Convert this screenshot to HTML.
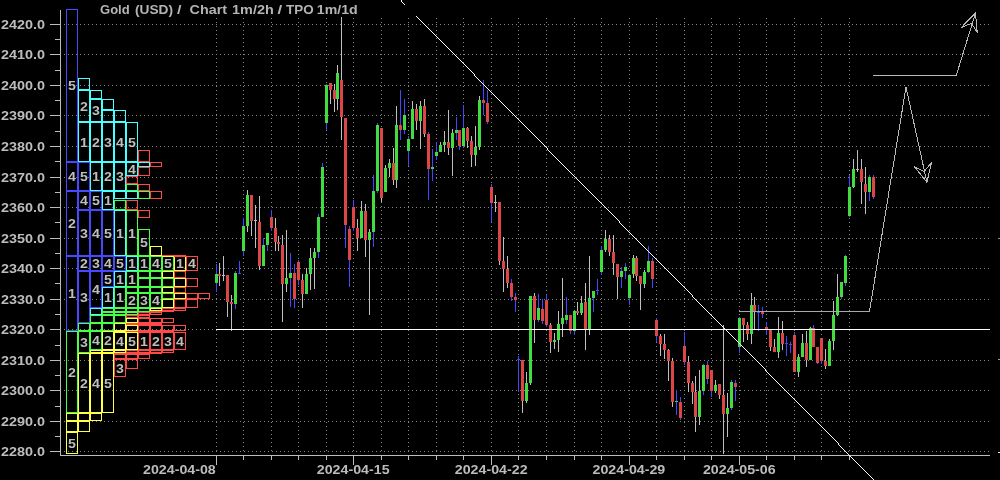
<!DOCTYPE html><html><head><meta charset="utf-8"><style>html,body{margin:0;padding:0;background:#000;}body{width:1000px;height:480px;overflow:hidden;}svg{display:block;will-change:transform;}</style></head><body>
<svg width="1000" height="480" viewBox="0 0 1000 480">
<rect width="1000" height="480" fill="#000"/>
<g stroke="#858585" stroke-width="1" stroke-dasharray="1 3" shape-rendering="crispEdges"><line x1="64" y1="24.5" x2="989" y2="24.5"/><line x1="64" y1="54.5" x2="989" y2="54.5"/><line x1="64" y1="85.5" x2="989" y2="85.5"/><line x1="64" y1="115.5" x2="989" y2="115.5"/><line x1="64" y1="146.5" x2="989" y2="146.5"/><line x1="64" y1="177.5" x2="989" y2="177.5"/><line x1="64" y1="207.5" x2="989" y2="207.5"/><line x1="64" y1="238.5" x2="989" y2="238.5"/><line x1="64" y1="268.5" x2="989" y2="268.5"/><line x1="64" y1="299.5" x2="989" y2="299.5"/><line x1="64" y1="329.5" x2="989" y2="329.5"/><line x1="64" y1="360.5" x2="989" y2="360.5"/><line x1="64" y1="390.5" x2="989" y2="390.5"/><line x1="64" y1="421.5" x2="989" y2="421.5"/><line x1="64" y1="451.5" x2="989" y2="451.5"/><line x1="216.5" y1="18" x2="216.5" y2="452"/><line x1="243.5" y1="18" x2="243.5" y2="452"/><line x1="271.5" y1="18" x2="271.5" y2="452"/><line x1="298.5" y1="18" x2="298.5" y2="452"/><line x1="326.5" y1="18" x2="326.5" y2="452"/><line x1="353.5" y1="18" x2="353.5" y2="452"/><line x1="381.5" y1="18" x2="381.5" y2="452"/><line x1="408.5" y1="18" x2="408.5" y2="452"/><line x1="436.5" y1="18" x2="436.5" y2="452"/><line x1="463.5" y1="18" x2="463.5" y2="452"/><line x1="491.5" y1="18" x2="491.5" y2="452"/><line x1="518.5" y1="18" x2="518.5" y2="452"/><line x1="546.5" y1="18" x2="546.5" y2="452"/><line x1="574.5" y1="18" x2="574.5" y2="452"/><line x1="601.5" y1="18" x2="601.5" y2="452"/><line x1="629.5" y1="18" x2="629.5" y2="452"/><line x1="656.5" y1="18" x2="656.5" y2="452"/><line x1="684.5" y1="18" x2="684.5" y2="452"/><line x1="711.5" y1="18" x2="711.5" y2="452"/><line x1="739.5" y1="18" x2="739.5" y2="452"/><line x1="766.5" y1="18" x2="766.5" y2="452"/><line x1="794.5" y1="18" x2="794.5" y2="452"/><line x1="821.5" y1="18" x2="821.5" y2="452"/><line x1="849.5" y1="18" x2="849.5" y2="452"/></g>
<g fill="#bcbcbc" shape-rendering="crispEdges"><rect x="60" y="10" width="1" height="446"/><rect x="60" y="455" width="930" height="1"/><rect x="50" y="24" width="10" height="1"/><rect x="50" y="54" width="10" height="1"/><rect x="50" y="85" width="10" height="1"/><rect x="50" y="115" width="10" height="1"/><rect x="50" y="146" width="10" height="1"/><rect x="50" y="177" width="10" height="1"/><rect x="50" y="207" width="10" height="1"/><rect x="50" y="238" width="10" height="1"/><rect x="50" y="268" width="10" height="1"/><rect x="50" y="299" width="10" height="1"/><rect x="50" y="329" width="10" height="1"/><rect x="50" y="360" width="10" height="1"/><rect x="50" y="390" width="10" height="1"/><rect x="50" y="421" width="10" height="1"/><rect x="50" y="451" width="10" height="1"/><rect x="55" y="39" width="5" height="1"/><rect x="55" y="70" width="5" height="1"/><rect x="55" y="100" width="5" height="1"/><rect x="55" y="131" width="5" height="1"/><rect x="55" y="161" width="5" height="1"/><rect x="55" y="192" width="5" height="1"/><rect x="55" y="222" width="5" height="1"/><rect x="55" y="253" width="5" height="1"/><rect x="55" y="283" width="5" height="1"/><rect x="55" y="314" width="5" height="1"/><rect x="55" y="345" width="5" height="1"/><rect x="55" y="375" width="5" height="1"/><rect x="55" y="406" width="5" height="1"/><rect x="55" y="436" width="5" height="1"/><rect x="216" y="456" width="1" height="9"/><rect x="243" y="456" width="1" height="4"/><rect x="271" y="456" width="1" height="4"/><rect x="298" y="456" width="1" height="4"/><rect x="326" y="456" width="1" height="4"/><rect x="353" y="456" width="1" height="9"/><rect x="381" y="456" width="1" height="4"/><rect x="408" y="456" width="1" height="4"/><rect x="436" y="456" width="1" height="4"/><rect x="463" y="456" width="1" height="4"/><rect x="491" y="456" width="1" height="9"/><rect x="518" y="456" width="1" height="4"/><rect x="546" y="456" width="1" height="4"/><rect x="574" y="456" width="1" height="4"/><rect x="601" y="456" width="1" height="4"/><rect x="629" y="456" width="1" height="9"/><rect x="656" y="456" width="1" height="4"/><rect x="684" y="456" width="1" height="4"/><rect x="711" y="456" width="1" height="4"/><rect x="739" y="456" width="1" height="9"/><rect x="766" y="456" width="1" height="4"/><rect x="794" y="456" width="1" height="4"/><rect x="821" y="456" width="1" height="4"/><rect x="849" y="456" width="1" height="4"/></g>
<g fill="#bcbcbc" font-family="'Liberation Sans', sans-serif" font-weight="bold" font-size="12.4px"><text x="1" y="29" textLength="44" lengthAdjust="spacingAndGlyphs">2420.0</text><text x="1" y="59" textLength="44" lengthAdjust="spacingAndGlyphs">2410.0</text><text x="1" y="90" textLength="44" lengthAdjust="spacingAndGlyphs">2400.0</text><text x="1" y="120" textLength="44" lengthAdjust="spacingAndGlyphs">2390.0</text><text x="1" y="151" textLength="44" lengthAdjust="spacingAndGlyphs">2380.0</text><text x="1" y="182" textLength="44" lengthAdjust="spacingAndGlyphs">2370.0</text><text x="1" y="212" textLength="44" lengthAdjust="spacingAndGlyphs">2360.0</text><text x="1" y="243" textLength="44" lengthAdjust="spacingAndGlyphs">2350.0</text><text x="1" y="273" textLength="44" lengthAdjust="spacingAndGlyphs">2340.0</text><text x="1" y="304" textLength="44" lengthAdjust="spacingAndGlyphs">2330.0</text><text x="1" y="334" textLength="44" lengthAdjust="spacingAndGlyphs">2320.0</text><text x="1" y="365" textLength="44" lengthAdjust="spacingAndGlyphs">2310.0</text><text x="1" y="395" textLength="44" lengthAdjust="spacingAndGlyphs">2300.0</text><text x="1" y="426" textLength="44" lengthAdjust="spacingAndGlyphs">2290.0</text><text x="1" y="456" textLength="44" lengthAdjust="spacingAndGlyphs">2280.0</text></g>
<g fill="#bcbcbc" font-family="'Liberation Sans', sans-serif" font-weight="bold" font-size="12.5px"><text x="143" y="474" textLength="72.8" lengthAdjust="spacingAndGlyphs">2024-04-08</text><text x="316.8" y="474" textLength="72.8" lengthAdjust="spacingAndGlyphs">2024-04-15</text><text x="454.8" y="474" textLength="72.8" lengthAdjust="spacingAndGlyphs">2024-04-22</text><text x="592.5" y="474" textLength="72.8" lengthAdjust="spacingAndGlyphs">2024-04-29</text><text x="702.9" y="474" textLength="72.8" lengthAdjust="spacingAndGlyphs">2024-05-06</text></g>
<g fill="#b4b4b4" font-family="'Liberation Sans', sans-serif" font-weight="bold" font-size="13.2px"><text x="100.0" y="14" textLength="29.7" lengthAdjust="spacingAndGlyphs">Gold</text><text x="135.0" y="14" textLength="38.1" lengthAdjust="spacingAndGlyphs">(USD)</text><text x="177.0" y="14" textLength="4.5" lengthAdjust="spacingAndGlyphs">/</text><text x="189.6" y="14" textLength="37.4" lengthAdjust="spacingAndGlyphs">Chart</text><text x="232.1" y="14" textLength="41.6" lengthAdjust="spacingAndGlyphs">1m/2h</text><text x="277.4" y="14" textLength="4.7" lengthAdjust="spacingAndGlyphs">/</text><text x="286.0" y="14" textLength="27.6" lengthAdjust="spacingAndGlyphs">TPO</text><text x="316.8" y="14" textLength="40.9" lengthAdjust="spacingAndGlyphs">1m/1d</text></g>
<g fill="#000"><rect x="67.8" y="286.30" width="8.4" height="14.8"/><rect x="67.8" y="216.30" width="8.4" height="14.8"/><rect x="79.8" y="256.30" width="8.4" height="14.8"/><rect x="79.8" y="225.80" width="8.4" height="14.8"/><rect x="91.8" y="256.30" width="8.4" height="14.8"/><rect x="79.8" y="289.80" width="8.4" height="14.8"/><rect x="67.8" y="169.30" width="8.4" height="14.8"/><rect x="79.8" y="193.30" width="8.4" height="14.8"/><rect x="91.8" y="225.80" width="8.4" height="14.8"/><rect x="103.8" y="256.30" width="8.4" height="14.8"/><rect x="91.8" y="282.30" width="8.4" height="14.8"/><rect x="67.8" y="78.30" width="8.4" height="14.8"/><rect x="79.8" y="169.30" width="8.4" height="14.8"/><rect x="91.8" y="193.30" width="8.4" height="14.8"/><rect x="103.8" y="225.80" width="8.4" height="14.8"/><rect x="115.8" y="256.30" width="8.4" height="14.8"/><rect x="103.8" y="271.80" width="8.4" height="14.8"/><rect x="79.8" y="134.80" width="8.4" height="14.8"/><rect x="91.8" y="169.30" width="8.4" height="14.8"/><rect x="103.8" y="193.30" width="8.4" height="14.8"/><rect x="115.8" y="225.80" width="8.4" height="14.8"/><rect x="127.8" y="256.30" width="8.4" height="14.8"/><rect x="115.8" y="271.80" width="8.4" height="14.8"/><rect x="103.8" y="290.30" width="8.4" height="14.8"/><rect x="79.8" y="98.80" width="8.4" height="14.8"/><rect x="91.8" y="134.80" width="8.4" height="14.8"/><rect x="103.8" y="169.30" width="8.4" height="14.8"/><rect x="91.8" y="103.30" width="8.4" height="14.8"/><rect x="103.8" y="134.80" width="8.4" height="14.8"/><rect x="115.8" y="169.30" width="8.4" height="14.8"/><rect x="115.8" y="134.80" width="8.4" height="14.8"/><rect x="127.8" y="161.80" width="8.4" height="14.8"/><rect x="127.8" y="134.80" width="8.4" height="14.8"/><rect x="127.8" y="225.80" width="8.4" height="14.8"/><rect x="139.8" y="256.30" width="8.4" height="14.8"/><rect x="127.8" y="271.80" width="8.4" height="14.8"/><rect x="115.8" y="290.30" width="8.4" height="14.8"/><rect x="127.8" y="293.30" width="8.4" height="14.8"/><rect x="67.8" y="364.80" width="8.4" height="14.8"/><rect x="139.8" y="293.30" width="8.4" height="14.8"/><rect x="79.8" y="334.80" width="8.4" height="14.8"/><rect x="151.8" y="256.30" width="8.4" height="14.8"/><rect x="151.8" y="293.30" width="8.4" height="14.8"/><rect x="91.8" y="333.30" width="8.4" height="14.8"/><rect x="139.8" y="235.30" width="8.4" height="14.8"/><rect x="163.8" y="256.30" width="8.4" height="14.8"/><rect x="175.8" y="256.30" width="8.4" height="14.8"/><rect x="103.8" y="333.30" width="8.4" height="14.8"/><rect x="79.8" y="375.80" width="8.4" height="14.8"/><rect x="115.8" y="333.80" width="8.4" height="14.8"/><rect x="91.8" y="375.80" width="8.4" height="14.8"/><rect x="127.8" y="333.80" width="8.4" height="14.8"/><rect x="103.8" y="375.80" width="8.4" height="14.8"/><rect x="67.8" y="435.80" width="8.4" height="14.8"/><rect x="139.8" y="333.80" width="8.4" height="14.8"/><rect x="151.8" y="333.80" width="8.4" height="14.8"/><rect x="163.8" y="333.80" width="8.4" height="14.8"/><rect x="115.8" y="360.80" width="8.4" height="14.8"/><rect x="187.8" y="256.30" width="8.4" height="14.8"/><rect x="175.8" y="333.80" width="8.4" height="14.8"/></g>
<g fill="none" stroke-width="1" shape-rendering="crispEdges"><rect x="66.5" y="256.5" width="11" height="74" stroke="#4848ff"/><rect x="66.5" y="191.5" width="11" height="64" stroke="#4848ff"/><rect x="78.5" y="256.5" width="11" height="14" stroke="#4848ff"/><rect x="78.5" y="210.5" width="11" height="45" stroke="#4848ff"/><rect x="90.5" y="256.5" width="11" height="14" stroke="#4848ff"/><rect x="78.5" y="271.5" width="11" height="51" stroke="#4848ff"/><rect x="66.5" y="162.5" width="11" height="28" stroke="#4848ff"/><rect x="78.5" y="191.5" width="11" height="18" stroke="#4848ff"/><rect x="90.5" y="210.5" width="11" height="45" stroke="#4848ff"/><rect x="102.5" y="256.5" width="11" height="14" stroke="#4848ff"/><rect x="90.5" y="271.5" width="11" height="36" stroke="#4848ff"/><rect x="66.5" y="9.5" width="11" height="152" stroke="#4848ff"/><rect x="78.5" y="162.5" width="11" height="28" stroke="#4848ff"/><rect x="90.5" y="191.5" width="11" height="18" stroke="#4848ff"/><rect x="102.5" y="210.5" width="11" height="45" stroke="#4848ff"/><rect x="114.5" y="256.5" width="11" height="14" stroke="#4848ff"/><rect x="102.5" y="271.5" width="11" height="15" stroke="#4848ff"/><rect x="78.5" y="122.5" width="11" height="39" stroke="#48ffff"/><rect x="90.5" y="162.5" width="11" height="28" stroke="#48ffff"/><rect x="102.5" y="191.5" width="11" height="18" stroke="#48ffff"/><rect x="114.5" y="210.5" width="11" height="45" stroke="#48ffff"/><rect x="126.5" y="256.5" width="11" height="14" stroke="#48ffff"/><rect x="114.5" y="271.5" width="11" height="15" stroke="#48ffff"/><rect x="102.5" y="287.5" width="11" height="20" stroke="#48ffff"/><rect x="90.5" y="308.5" width="11" height="6" stroke="#48ffff"/><rect x="78.5" y="90.5" width="11" height="31" stroke="#48ffff"/><rect x="90.5" y="122.5" width="11" height="39" stroke="#48ffff"/><rect x="102.5" y="162.5" width="11" height="28" stroke="#48ffff"/><rect x="114.5" y="191.5" width="11" height="7" stroke="#48ffff"/><rect x="90.5" y="99.5" width="11" height="22" stroke="#48ffff"/><rect x="102.5" y="122.5" width="11" height="39" stroke="#48ffff"/><rect x="114.5" y="162.5" width="11" height="28" stroke="#48ffff"/><rect x="126.5" y="191.5" width="11" height="7" stroke="#48ffff"/><rect x="102.5" y="110.5" width="11" height="11" stroke="#48ffff"/><rect x="114.5" y="122.5" width="11" height="39" stroke="#48ffff"/><rect x="126.5" y="162.5" width="11" height="13" stroke="#48ffff"/><rect x="78.5" y="78.5" width="11" height="11" stroke="#48ffff"/><rect x="90.5" y="90.5" width="11" height="8" stroke="#48ffff"/><rect x="102.5" y="99.5" width="11" height="10" stroke="#48ffff"/><rect x="114.5" y="110.5" width="11" height="11" stroke="#48ffff"/><rect x="126.5" y="122.5" width="11" height="39" stroke="#48ffff"/><rect x="138.5" y="162.5" width="11" height="4" stroke="#48ffff"/><rect x="126.5" y="184.5" width="11" height="6" stroke="#48ff48"/><rect x="138.5" y="191.5" width="11" height="7" stroke="#48ff48"/><rect x="114.5" y="200.5" width="11" height="9" stroke="#48ff48"/><rect x="126.5" y="210.5" width="11" height="45" stroke="#48ff48"/><rect x="138.5" y="256.5" width="11" height="14" stroke="#48ff48"/><rect x="126.5" y="271.5" width="11" height="15" stroke="#48ff48"/><rect x="114.5" y="287.5" width="11" height="20" stroke="#48ff48"/><rect x="102.5" y="308.5" width="11" height="3" stroke="#48ff48"/><rect x="126.5" y="293.5" width="11" height="14" stroke="#48ff48"/><rect x="114.5" y="308.5" width="11" height="3" stroke="#48ff48"/><rect x="102.5" y="312.5" width="11" height="2" stroke="#48ff48"/><rect x="90.5" y="315.5" width="11" height="7" stroke="#48ff48"/><rect x="78.5" y="323.5" width="11" height="7" stroke="#48ff48"/><rect x="66.5" y="331.5" width="11" height="81" stroke="#48ff48"/><rect x="138.5" y="278.5" width="11" height="8" stroke="#48ff48"/><rect x="126.5" y="287.5" width="11" height="5" stroke="#48ff48"/><rect x="138.5" y="293.5" width="11" height="14" stroke="#48ff48"/><rect x="126.5" y="308.5" width="11" height="3" stroke="#48ff48"/><rect x="114.5" y="312.5" width="11" height="2" stroke="#48ff48"/><rect x="102.5" y="315.5" width="11" height="7" stroke="#48ff48"/><rect x="90.5" y="323.5" width="11" height="7" stroke="#48ff48"/><rect x="78.5" y="331.5" width="11" height="21" stroke="#48ff48"/><rect x="150.5" y="256.5" width="11" height="14" stroke="#48ff48"/><rect x="138.5" y="271.5" width="11" height="6" stroke="#48ff48"/><rect x="150.5" y="278.5" width="11" height="8" stroke="#48ff48"/><rect x="138.5" y="287.5" width="11" height="5" stroke="#48ff48"/><rect x="150.5" y="293.5" width="11" height="14" stroke="#48ff48"/><rect x="138.5" y="308.5" width="11" height="3" stroke="#48ff48"/><rect x="126.5" y="312.5" width="11" height="2" stroke="#48ff48"/><rect x="114.5" y="315.5" width="11" height="7" stroke="#48ff48"/><rect x="102.5" y="323.5" width="11" height="7" stroke="#48ff48"/><rect x="90.5" y="331.5" width="11" height="18" stroke="#48ff48"/><rect x="138.5" y="229.5" width="11" height="26" stroke="#48ff48"/><rect x="162.5" y="256.5" width="11" height="14" stroke="#48ff48"/><rect x="150.5" y="271.5" width="11" height="6" stroke="#48ff48"/><rect x="162.5" y="278.5" width="11" height="8" stroke="#48ff48"/><rect x="150.5" y="287.5" width="11" height="5" stroke="#48ff48"/><rect x="162.5" y="293.5" width="11" height="5" stroke="#48ff48"/><rect x="150.5" y="246.5" width="11" height="9" stroke="#ffff48"/><rect x="174.5" y="256.5" width="11" height="14" stroke="#ffff48"/><rect x="162.5" y="271.5" width="11" height="6" stroke="#ffff48"/><rect x="174.5" y="278.5" width="11" height="8" stroke="#ffff48"/><rect x="162.5" y="287.5" width="11" height="5" stroke="#ffff48"/><rect x="174.5" y="293.5" width="11" height="5" stroke="#ffff48"/><rect x="162.5" y="299.5" width="11" height="8" stroke="#ffff48"/><rect x="150.5" y="308.5" width="11" height="2" stroke="#ffff48"/><rect x="126.5" y="318.5" width="11" height="4" stroke="#ffff48"/><rect x="114.5" y="323.5" width="11" height="7" stroke="#ffff48"/><rect x="102.5" y="331.5" width="11" height="18" stroke="#ffff48"/><rect x="90.5" y="350.5" width="11" height="2" stroke="#ffff48"/><rect x="78.5" y="353.5" width="11" height="59" stroke="#ffff48"/><rect x="66.5" y="413.5" width="11" height="7" stroke="#ffff48"/><rect x="114.5" y="332.5" width="11" height="17" stroke="#ffff48"/><rect x="102.5" y="350.5" width="11" height="2" stroke="#ffff48"/><rect x="90.5" y="353.5" width="11" height="59" stroke="#ffff48"/><rect x="78.5" y="413.5" width="11" height="7" stroke="#ffff48"/><rect x="66.5" y="421.5" width="11" height="10" stroke="#ffff48"/><rect x="126.5" y="325.5" width="11" height="5" stroke="#ffff48"/><rect x="114" y="331" width="12" height="1" fill="#ffff48"/><rect x="126.5" y="332.5" width="11" height="17" stroke="#ffff48"/><rect x="114.5" y="350.5" width="11" height="2" stroke="#ffff48"/><rect x="102.5" y="353.5" width="11" height="59" stroke="#ffff48"/><rect x="90.5" y="413.5" width="11" height="7" stroke="#ffff48"/><rect x="78.5" y="421.5" width="11" height="10" stroke="#ffff48"/><rect x="66.5" y="432.5" width="11" height="21" stroke="#ffff48"/><rect x="186.5" y="293.5" width="11" height="5" stroke="#ff4848"/><rect x="174.5" y="299.5" width="11" height="8" stroke="#ff4848"/><rect x="162.5" y="308.5" width="11" height="2" stroke="#ff4848"/><rect x="150" y="311" width="12" height="1" fill="#ff4848"/><rect x="138.5" y="312.5" width="11" height="2" stroke="#ff4848"/><rect x="126.5" y="315.5" width="11" height="2" stroke="#ff4848"/><rect x="138.5" y="318.5" width="11" height="4" stroke="#ff4848"/><rect x="126.5" y="323.5" width="11" height="1" stroke="#ff4848"/><rect x="138.5" y="325.5" width="11" height="5" stroke="#ff4848"/><rect x="126" y="331" width="12" height="1" fill="#ff4848"/><rect x="138.5" y="332.5" width="11" height="17" stroke="#ff4848"/><rect x="126.5" y="350.5" width="11" height="2" stroke="#ff4848"/><rect x="114" y="353" width="12" height="1" fill="#ff4848"/><rect x="150.5" y="318.5" width="11" height="4" stroke="#ff4848"/><rect x="138.5" y="323.5" width="11" height="1" stroke="#ff4848"/><rect x="150.5" y="325.5" width="11" height="5" stroke="#ff4848"/><rect x="138" y="331" width="12" height="1" fill="#ff4848"/><rect x="150.5" y="332.5" width="11" height="17" stroke="#ff4848"/><rect x="138.5" y="350.5" width="11" height="2" stroke="#ff4848"/><rect x="126" y="353" width="12" height="1" fill="#ff4848"/><rect x="114.5" y="354.5" width="11" height="4" stroke="#ff4848"/><rect x="162.5" y="325.5" width="11" height="5" stroke="#ff4848"/><rect x="150" y="331" width="12" height="1" fill="#ff4848"/><rect x="162.5" y="332.5" width="11" height="17" stroke="#ff4848"/><rect x="150.5" y="350.5" width="11" height="2" stroke="#ff4848"/><rect x="138" y="353" width="12" height="1" fill="#ff4848"/><rect x="126.5" y="354.5" width="11" height="4" stroke="#ff4848"/><rect x="114.5" y="359.5" width="11" height="17" stroke="#ff4848"/><rect x="162" y="255" width="12" height="1" fill="#ff4848"/><rect x="186.5" y="256.5" width="11" height="14" stroke="#ff4848"/><rect x="174.5" y="271.5" width="11" height="6" stroke="#ff4848"/><rect x="186.5" y="278.5" width="11" height="8" stroke="#ff4848"/><rect x="174.5" y="287.5" width="11" height="5" stroke="#ff4848"/><rect x="198.5" y="293.5" width="11" height="5" stroke="#ff4848"/><rect x="186.5" y="299.5" width="11" height="8" stroke="#ff4848"/><rect x="174.5" y="308.5" width="11" height="2" stroke="#ff4848"/><rect x="162" y="311" width="12" height="1" fill="#ff4848"/><rect x="150.5" y="312.5" width="11" height="2" stroke="#ff4848"/><rect x="138.5" y="315.5" width="11" height="2" stroke="#ff4848"/><rect x="162.5" y="318.5" width="11" height="4" stroke="#ff4848"/><rect x="150.5" y="323.5" width="11" height="1" stroke="#ff4848"/><rect x="174.5" y="325.5" width="11" height="5" stroke="#ff4848"/><rect x="162" y="331" width="12" height="1" fill="#ff4848"/><rect x="174.5" y="332.5" width="11" height="17" stroke="#ff4848"/><rect x="162.5" y="350.5" width="11" height="2" stroke="#ff4848"/><rect x="150" y="353" width="12" height="1" fill="#ff4848"/><rect x="138.5" y="354.5" width="11" height="4" stroke="#ff4848"/><rect x="126.5" y="359.5" width="11" height="9" stroke="#ff4848"/><rect x="138.5" y="150.5" width="11" height="11" stroke="#ff4848"/><rect x="150.5" y="162.5" width="11" height="4" stroke="#ff4848"/><rect x="138.5" y="167.5" width="11" height="8" stroke="#ff4848"/><rect x="126.5" y="176.5" width="11" height="7" stroke="#ff4848"/><rect x="138.5" y="184.5" width="11" height="6" stroke="#ff4848"/><rect x="150.5" y="191.5" width="11" height="7" stroke="#ff4848"/><rect x="126.5" y="200.5" width="11" height="9" stroke="#ff4848"/><rect x="138.5" y="210.5" width="11" height="7" stroke="#ff4848"/></g>
<g shape-rendering="crispEdges"><rect x="162" y="256" width="12" height="1" fill="#ffff48"/><rect x="174" y="255" width="12" height="2" fill="#ff4848"/><rect x="139" y="315" width="10" height="1" fill="#ff4848"/></g>
<g fill="#bebebe" font-family="'Liberation Sans', sans-serif" font-weight="bold" font-size="12.6px" text-anchor="middle"><text x="72" y="298.20" textLength="7.9" lengthAdjust="spacingAndGlyphs">1</text><text x="72" y="228.20" textLength="7.9" lengthAdjust="spacingAndGlyphs">2</text><text x="84" y="268.20" textLength="7.9" lengthAdjust="spacingAndGlyphs">2</text><text x="84" y="237.70" textLength="7.9" lengthAdjust="spacingAndGlyphs">3</text><text x="96" y="268.20" textLength="7.9" lengthAdjust="spacingAndGlyphs">3</text><text x="84" y="301.70" textLength="7.9" lengthAdjust="spacingAndGlyphs">3</text><text x="72" y="181.20" textLength="7.9" lengthAdjust="spacingAndGlyphs">4</text><text x="84" y="205.20" textLength="7.9" lengthAdjust="spacingAndGlyphs">4</text><text x="96" y="237.70" textLength="7.9" lengthAdjust="spacingAndGlyphs">4</text><text x="108" y="268.20" textLength="7.9" lengthAdjust="spacingAndGlyphs">4</text><text x="96" y="294.20" textLength="7.9" lengthAdjust="spacingAndGlyphs">4</text><text x="72" y="90.20" textLength="7.9" lengthAdjust="spacingAndGlyphs">5</text><text x="84" y="181.20" textLength="7.9" lengthAdjust="spacingAndGlyphs">5</text><text x="96" y="205.20" textLength="7.9" lengthAdjust="spacingAndGlyphs">5</text><text x="108" y="237.70" textLength="7.9" lengthAdjust="spacingAndGlyphs">5</text><text x="120" y="268.20" textLength="7.9" lengthAdjust="spacingAndGlyphs">5</text><text x="108" y="283.70" textLength="7.9" lengthAdjust="spacingAndGlyphs">5</text><text x="84" y="146.70" textLength="7.9" lengthAdjust="spacingAndGlyphs">1</text><text x="96" y="181.20" textLength="7.9" lengthAdjust="spacingAndGlyphs">1</text><text x="108" y="205.20" textLength="7.9" lengthAdjust="spacingAndGlyphs">1</text><text x="120" y="237.70" textLength="7.9" lengthAdjust="spacingAndGlyphs">1</text><text x="132" y="268.20" textLength="7.9" lengthAdjust="spacingAndGlyphs">1</text><text x="120" y="283.70" textLength="7.9" lengthAdjust="spacingAndGlyphs">1</text><text x="108" y="302.20" textLength="7.9" lengthAdjust="spacingAndGlyphs">1</text><text x="84" y="110.70" textLength="7.9" lengthAdjust="spacingAndGlyphs">2</text><text x="96" y="146.70" textLength="7.9" lengthAdjust="spacingAndGlyphs">2</text><text x="108" y="181.20" textLength="7.9" lengthAdjust="spacingAndGlyphs">2</text><text x="96" y="115.20" textLength="7.9" lengthAdjust="spacingAndGlyphs">3</text><text x="108" y="146.70" textLength="7.9" lengthAdjust="spacingAndGlyphs">3</text><text x="120" y="181.20" textLength="7.9" lengthAdjust="spacingAndGlyphs">3</text><text x="120" y="146.70" textLength="7.9" lengthAdjust="spacingAndGlyphs">4</text><text x="132" y="173.70" textLength="7.9" lengthAdjust="spacingAndGlyphs">4</text><text x="132" y="146.70" textLength="7.9" lengthAdjust="spacingAndGlyphs">5</text><text x="132" y="237.70" textLength="7.9" lengthAdjust="spacingAndGlyphs">1</text><text x="144" y="268.20" textLength="7.9" lengthAdjust="spacingAndGlyphs">1</text><text x="132" y="283.70" textLength="7.9" lengthAdjust="spacingAndGlyphs">1</text><text x="120" y="302.20" textLength="7.9" lengthAdjust="spacingAndGlyphs">1</text><text x="132" y="305.20" textLength="7.9" lengthAdjust="spacingAndGlyphs">2</text><text x="72" y="376.70" textLength="7.9" lengthAdjust="spacingAndGlyphs">2</text><text x="144" y="305.20" textLength="7.9" lengthAdjust="spacingAndGlyphs">3</text><text x="84" y="346.70" textLength="7.9" lengthAdjust="spacingAndGlyphs">3</text><text x="156" y="268.20" textLength="7.9" lengthAdjust="spacingAndGlyphs">4</text><text x="156" y="305.20" textLength="7.9" lengthAdjust="spacingAndGlyphs">4</text><text x="96" y="345.20" textLength="7.9" lengthAdjust="spacingAndGlyphs">4</text><text x="144" y="247.20" textLength="7.9" lengthAdjust="spacingAndGlyphs">5</text><text x="168" y="268.20" textLength="7.9" lengthAdjust="spacingAndGlyphs">5</text><text x="180" y="268.20" textLength="7.9" lengthAdjust="spacingAndGlyphs">1</text><text x="108" y="345.20" textLength="7.9" lengthAdjust="spacingAndGlyphs">2</text><text x="84" y="387.70" textLength="7.9" lengthAdjust="spacingAndGlyphs">2</text><text x="120" y="345.70" textLength="7.9" lengthAdjust="spacingAndGlyphs">4</text><text x="96" y="387.70" textLength="7.9" lengthAdjust="spacingAndGlyphs">4</text><text x="132" y="345.70" textLength="7.9" lengthAdjust="spacingAndGlyphs">5</text><text x="108" y="387.70" textLength="7.9" lengthAdjust="spacingAndGlyphs">5</text><text x="72" y="447.70" textLength="7.9" lengthAdjust="spacingAndGlyphs">5</text><text x="144" y="345.70" textLength="7.9" lengthAdjust="spacingAndGlyphs">1</text><text x="156" y="345.70" textLength="7.9" lengthAdjust="spacingAndGlyphs">2</text><text x="168" y="345.70" textLength="7.9" lengthAdjust="spacingAndGlyphs">3</text><text x="120" y="372.70" textLength="7.9" lengthAdjust="spacingAndGlyphs">3</text><text x="192" y="268.20" textLength="7.9" lengthAdjust="spacingAndGlyphs">4</text><text x="180" y="345.70" textLength="7.9" lengthAdjust="spacingAndGlyphs">4</text></g>
<g shape-rendering="crispEdges"><rect x="216" y="264" width="1" height="28" fill="#4646ff"/><rect x="219" y="263" width="1" height="23" fill="#bebebe"/><rect x="223" y="256" width="1" height="25" fill="#bebebe"/><rect x="227" y="275" width="1" height="42" fill="#bebebe"/><rect x="231" y="295" width="1" height="36" fill="#bebebe"/><rect x="235" y="271" width="1" height="38" fill="#4646ff"/><rect x="239" y="261" width="1" height="13" fill="#4646ff"/><rect x="243" y="218" width="1" height="38" fill="#4646ff"/><rect x="247" y="190" width="1" height="42" fill="#bebebe"/><rect x="251" y="195" width="1" height="41" fill="#bebebe"/><rect x="255" y="205" width="1" height="43" fill="#bebebe"/><rect x="259" y="196" width="1" height="74" fill="#bebebe"/><rect x="263" y="238" width="1" height="28" fill="#4646ff"/><rect x="267" y="233" width="1" height="18" fill="#4646ff"/><rect x="271" y="210" width="1" height="21" fill="#4646ff"/><rect x="275" y="218" width="1" height="33" fill="#bebebe"/><rect x="278" y="236" width="1" height="15" fill="#bebebe"/><rect x="282" y="235" width="1" height="87" fill="#bebebe"/><rect x="286" y="230" width="1" height="62" fill="#bebebe"/><rect x="290" y="253" width="1" height="54" fill="#4646ff"/><rect x="294" y="264" width="1" height="44" fill="#4646ff"/><rect x="298" y="260" width="1" height="25" fill="#4646ff"/><rect x="302" y="274" width="1" height="34" fill="#bebebe"/><rect x="306" y="268" width="1" height="26" fill="#bebebe"/><rect x="310" y="248" width="1" height="42" fill="#bebebe"/><rect x="314" y="248" width="1" height="41" fill="#bebebe"/><rect x="318" y="214" width="1" height="44" fill="#4646ff"/><rect x="322" y="163" width="1" height="54" fill="#4646ff"/><rect x="326" y="84" width="1" height="46" fill="#4646ff"/><rect x="330" y="83" width="1" height="21" fill="#bebebe"/><rect x="334" y="84" width="1" height="28" fill="#bebebe"/><rect x="337" y="65" width="1" height="45" fill="#bebebe"/><rect x="341" y="17" width="1" height="123" fill="#bebebe"/><rect x="345" y="118" width="1" height="130" fill="#4646ff"/><rect x="349" y="226" width="1" height="61" fill="#4646ff"/><rect x="353" y="200" width="1" height="31" fill="#4646ff"/><rect x="357" y="219" width="1" height="32" fill="#bebebe"/><rect x="361" y="201" width="1" height="37" fill="#bebebe"/><rect x="365" y="204" width="1" height="53" fill="#bebebe"/><rect x="369" y="229" width="1" height="86" fill="#bebebe"/><rect x="373" y="175" width="1" height="72" fill="#4646ff"/><rect x="377" y="123" width="1" height="70" fill="#4646ff"/><rect x="381" y="128" width="1" height="74" fill="#bebebe"/><rect x="385" y="165" width="1" height="27" fill="#bebebe"/><rect x="389" y="159" width="1" height="18" fill="#bebebe"/><rect x="393" y="148" width="1" height="37" fill="#bebebe"/><rect x="396" y="106" width="1" height="82" fill="#bebebe"/><rect x="400" y="90" width="1" height="50" fill="#4646ff"/><rect x="404" y="99" width="1" height="35" fill="#4646ff"/><rect x="408" y="136" width="1" height="30" fill="#4646ff"/><rect x="412" y="101" width="1" height="38" fill="#bebebe"/><rect x="416" y="104" width="1" height="26" fill="#bebebe"/><rect x="420" y="101" width="1" height="48" fill="#bebebe"/><rect x="424" y="99" width="1" height="38" fill="#bebebe"/><rect x="428" y="132" width="1" height="68" fill="#4646ff"/><rect x="432" y="149" width="1" height="32" fill="#4646ff"/><rect x="436" y="142" width="1" height="18" fill="#4646ff"/><rect x="440" y="142" width="1" height="10" fill="#bebebe"/><rect x="444" y="131" width="1" height="21" fill="#bebebe"/><rect x="448" y="110" width="1" height="45" fill="#bebebe"/><rect x="452" y="129" width="1" height="47" fill="#bebebe"/><rect x="456" y="117" width="1" height="23" fill="#4646ff"/><rect x="459" y="130" width="1" height="20" fill="#4646ff"/><rect x="463" y="105" width="1" height="43" fill="#4646ff"/><rect x="467" y="127" width="1" height="21" fill="#bebebe"/><rect x="471" y="136" width="1" height="31" fill="#bebebe"/><rect x="475" y="126" width="1" height="40" fill="#bebebe"/><rect x="479" y="96" width="1" height="54" fill="#bebebe"/><rect x="483" y="80" width="1" height="35" fill="#4646ff"/><rect x="487" y="90" width="1" height="34" fill="#4646ff"/><rect x="491" y="184" width="1" height="38" fill="#4646ff"/><rect x="495" y="195" width="1" height="17" fill="#bebebe"/><rect x="499" y="202" width="1" height="63" fill="#bebebe"/><rect x="503" y="237" width="1" height="55" fill="#bebebe"/><rect x="507" y="256" width="1" height="32" fill="#bebebe"/><rect x="511" y="279" width="1" height="22" fill="#4646ff"/><rect x="515" y="293" width="1" height="19" fill="#4646ff"/><rect x="518" y="356" width="1" height="36" fill="#4646ff"/><rect x="522" y="360" width="1" height="53" fill="#bebebe"/><rect x="526" y="372" width="1" height="31" fill="#bebebe"/><rect x="530" y="296" width="1" height="89" fill="#bebebe"/><rect x="534" y="293" width="1" height="50" fill="#bebebe"/><rect x="538" y="294" width="1" height="28" fill="#4646ff"/><rect x="542" y="299" width="1" height="25" fill="#4646ff"/><rect x="546" y="294" width="1" height="33" fill="#4646ff"/><rect x="550" y="323" width="1" height="30" fill="#bebebe"/><rect x="554" y="333" width="1" height="16" fill="#bebebe"/><rect x="558" y="311" width="1" height="41" fill="#bebebe"/><rect x="562" y="278" width="1" height="59" fill="#bebebe"/><rect x="566" y="297" width="1" height="27" fill="#4646ff"/><rect x="570" y="315" width="1" height="19" fill="#4646ff"/><rect x="574" y="311" width="1" height="24" fill="#4646ff"/><rect x="577" y="302" width="1" height="13" fill="#bebebe"/><rect x="581" y="296" width="1" height="19" fill="#bebebe"/><rect x="585" y="283" width="1" height="67" fill="#bebebe"/><rect x="589" y="256" width="1" height="79" fill="#bebebe"/><rect x="593" y="291" width="1" height="21" fill="#4646ff"/><rect x="597" y="279" width="1" height="16" fill="#4646ff"/><rect x="601" y="246" width="1" height="29" fill="#4646ff"/><rect x="605" y="230" width="1" height="22" fill="#bebebe"/><rect x="609" y="235" width="1" height="21" fill="#bebebe"/><rect x="613" y="235" width="1" height="40" fill="#bebebe"/><rect x="617" y="264" width="1" height="35" fill="#bebebe"/><rect x="621" y="267" width="1" height="21" fill="#4646ff"/><rect x="625" y="263" width="1" height="16" fill="#4646ff"/><rect x="629" y="274" width="1" height="31" fill="#4646ff"/><rect x="633" y="255" width="1" height="23" fill="#bebebe"/><rect x="636" y="256" width="1" height="25" fill="#bebebe"/><rect x="640" y="276" width="1" height="34" fill="#bebebe"/><rect x="644" y="270" width="1" height="18" fill="#bebebe"/><rect x="648" y="246" width="1" height="27" fill="#4646ff"/><rect x="652" y="258" width="1" height="30" fill="#4646ff"/><rect x="656" y="318" width="1" height="24" fill="#4646ff"/><rect x="660" y="334" width="1" height="22" fill="#bebebe"/><rect x="664" y="334" width="1" height="25" fill="#bebebe"/><rect x="668" y="349" width="1" height="32" fill="#bebebe"/><rect x="672" y="358" width="1" height="49" fill="#bebebe"/><rect x="676" y="390" width="1" height="25" fill="#4646ff"/><rect x="680" y="397" width="1" height="23" fill="#4646ff"/><rect x="684" y="332" width="1" height="33" fill="#4646ff"/><rect x="688" y="356" width="1" height="36" fill="#bebebe"/><rect x="692" y="381" width="1" height="23" fill="#bebebe"/><rect x="695" y="376" width="1" height="56" fill="#bebebe"/><rect x="699" y="370" width="1" height="55" fill="#bebebe"/><rect x="703" y="364" width="1" height="31" fill="#4646ff"/><rect x="707" y="361" width="1" height="23" fill="#4646ff"/><rect x="711" y="370" width="1" height="27" fill="#4646ff"/><rect x="715" y="380" width="1" height="13" fill="#bebebe"/><rect x="719" y="384" width="1" height="15" fill="#bebebe"/><rect x="723" y="325" width="1" height="129" fill="#bebebe"/><rect x="727" y="393" width="1" height="44" fill="#bebebe"/><rect x="731" y="380" width="1" height="30" fill="#4646ff"/><rect x="735" y="380" width="1" height="21" fill="#4646ff"/><rect x="739" y="317" width="1" height="36" fill="#4646ff"/><rect x="743" y="318" width="1" height="24" fill="#bebebe"/><rect x="747" y="322" width="1" height="18" fill="#bebebe"/><rect x="751" y="293" width="1" height="51" fill="#bebebe"/><rect x="754" y="297" width="1" height="32" fill="#bebebe"/><rect x="758" y="305" width="1" height="26" fill="#4646ff"/><rect x="762" y="307" width="1" height="11" fill="#4646ff"/><rect x="766" y="322" width="1" height="13" fill="#4646ff"/><rect x="770" y="330" width="1" height="21" fill="#bebebe"/><rect x="774" y="339" width="1" height="13" fill="#bebebe"/><rect x="778" y="317" width="1" height="41" fill="#bebebe"/><rect x="782" y="321" width="1" height="29" fill="#bebebe"/><rect x="786" y="336" width="1" height="20" fill="#4646ff"/><rect x="790" y="342" width="1" height="11" fill="#4646ff"/><rect x="794" y="332" width="1" height="40" fill="#4646ff"/><rect x="798" y="354" width="1" height="23" fill="#bebebe"/><rect x="802" y="334" width="1" height="23" fill="#bebebe"/><rect x="806" y="331" width="1" height="36" fill="#bebebe"/><rect x="810" y="327" width="1" height="33" fill="#bebebe"/><rect x="813" y="325" width="1" height="22" fill="#4646ff"/><rect x="817" y="347" width="1" height="17" fill="#4646ff"/><rect x="821" y="338" width="1" height="26" fill="#4646ff"/><rect x="825" y="349" width="1" height="20" fill="#bebebe"/><rect x="829" y="339" width="1" height="27" fill="#bebebe"/><rect x="833" y="301" width="1" height="49" fill="#bebebe"/><rect x="837" y="274" width="1" height="42" fill="#bebebe"/><rect x="841" y="282" width="1" height="17" fill="#4646ff"/><rect x="845" y="255" width="1" height="31" fill="#4646ff"/><rect x="849" y="175" width="1" height="42" fill="#4646ff"/><rect x="853" y="159" width="1" height="29" fill="#bebebe"/><rect x="857" y="150" width="1" height="22" fill="#bebebe"/><rect x="861" y="159" width="1" height="45" fill="#bebebe"/><rect x="865" y="167" width="1" height="47" fill="#bebebe"/><rect x="869" y="175" width="1" height="26" fill="#4646ff"/><rect x="873" y="175" width="1" height="24" fill="#4646ff"/><rect x="215" y="274" width="3" height="9" fill="#40dc40"/><rect x="218" y="274" width="3" height="2" fill="#dc4646"/><rect x="222" y="275" width="3" height="1" fill="#bebebe"/><rect x="226" y="275" width="3" height="27" fill="#dc4646"/><rect x="230" y="302" width="3" height="2" fill="#dc4646"/><rect x="234" y="273" width="3" height="31" fill="#40dc40"/><rect x="238" y="273" width="3" height="1" fill="#4646ff"/><rect x="242" y="226" width="3" height="25" fill="#40dc40"/><rect x="246" y="195" width="3" height="31" fill="#40dc40"/><rect x="250" y="195" width="3" height="26" fill="#dc4646"/><rect x="254" y="220" width="3" height="1" fill="#bebebe"/><rect x="258" y="222" width="3" height="44" fill="#dc4646"/><rect x="262" y="245" width="3" height="21" fill="#40dc40"/><rect x="266" y="233" width="3" height="12" fill="#40dc40"/><rect x="270" y="217" width="3" height="11" fill="#dc4646"/><rect x="274" y="228" width="3" height="14" fill="#dc4646"/><rect x="277" y="242" width="3" height="2" fill="#dc4646"/><rect x="281" y="245" width="3" height="39" fill="#dc4646"/><rect x="285" y="278" width="3" height="6" fill="#40dc40"/><rect x="289" y="273" width="3" height="5" fill="#40dc40"/><rect x="293" y="273" width="3" height="26" fill="#dc4646"/><rect x="297" y="262" width="3" height="18" fill="#dc4646"/><rect x="301" y="280" width="3" height="14" fill="#dc4646"/><rect x="305" y="274" width="3" height="20" fill="#40dc40"/><rect x="309" y="258" width="3" height="16" fill="#40dc40"/><rect x="313" y="252" width="3" height="6" fill="#40dc40"/><rect x="317" y="217" width="3" height="35" fill="#40dc40"/><rect x="321" y="167" width="3" height="50" fill="#40dc40"/><rect x="325" y="85" width="3" height="38" fill="#40dc40"/><rect x="329" y="83" width="3" height="7" fill="#dc4646"/><rect x="333" y="90" width="3" height="9" fill="#dc4646"/><rect x="336" y="73" width="3" height="26" fill="#40dc40"/><rect x="340" y="80" width="3" height="37" fill="#dc4646"/><rect x="344" y="118" width="3" height="107" fill="#dc4646"/><rect x="348" y="229" width="3" height="31" fill="#dc4646"/><rect x="352" y="207" width="3" height="21" fill="#dc4646"/><rect x="356" y="228" width="3" height="10" fill="#dc4646"/><rect x="360" y="211" width="3" height="27" fill="#40dc40"/><rect x="364" y="211" width="3" height="29" fill="#dc4646"/><rect x="368" y="232" width="3" height="8" fill="#40dc40"/><rect x="372" y="191" width="3" height="41" fill="#40dc40"/><rect x="376" y="125" width="3" height="66" fill="#40dc40"/><rect x="380" y="128" width="3" height="70" fill="#dc4646"/><rect x="384" y="168" width="3" height="24" fill="#40dc40"/><rect x="388" y="163" width="3" height="5" fill="#40dc40"/><rect x="392" y="163" width="3" height="17" fill="#dc4646"/><rect x="395" y="125" width="3" height="55" fill="#40dc40"/><rect x="399" y="125" width="3" height="5" fill="#dc4646"/><rect x="403" y="115" width="3" height="15" fill="#40dc40"/><rect x="407" y="139" width="3" height="12" fill="#40dc40"/><rect x="411" y="109" width="3" height="30" fill="#40dc40"/><rect x="415" y="109" width="3" height="12" fill="#dc4646"/><rect x="419" y="106" width="3" height="15" fill="#40dc40"/><rect x="423" y="106" width="3" height="28" fill="#dc4646"/><rect x="427" y="134" width="3" height="35" fill="#dc4646"/><rect x="431" y="167" width="3" height="2" fill="#40dc40"/><rect x="435" y="152" width="3" height="4" fill="#40dc40"/><rect x="439" y="145" width="3" height="7" fill="#40dc40"/><rect x="443" y="142" width="3" height="3" fill="#40dc40"/><rect x="447" y="142" width="3" height="6" fill="#dc4646"/><rect x="451" y="133" width="3" height="15" fill="#40dc40"/><rect x="455" y="130" width="3" height="3" fill="#40dc40"/><rect x="458" y="130" width="3" height="16" fill="#dc4646"/><rect x="462" y="128" width="3" height="18" fill="#40dc40"/><rect x="466" y="128" width="3" height="13" fill="#dc4646"/><rect x="470" y="141" width="3" height="14" fill="#dc4646"/><rect x="474" y="147" width="3" height="8" fill="#40dc40"/><rect x="478" y="100" width="3" height="47" fill="#40dc40"/><rect x="482" y="100" width="3" height="3" fill="#dc4646"/><rect x="486" y="103" width="3" height="19" fill="#dc4646"/><rect x="490" y="187" width="3" height="16" fill="#dc4646"/><rect x="494" y="202" width="3" height="1" fill="#bebebe"/><rect x="498" y="202" width="3" height="59" fill="#dc4646"/><rect x="502" y="261" width="3" height="8" fill="#dc4646"/><rect x="506" y="269" width="3" height="14" fill="#dc4646"/><rect x="510" y="283" width="3" height="14" fill="#dc4646"/><rect x="514" y="297" width="3" height="3" fill="#dc4646"/><rect x="517" y="359" width="3" height="1" fill="#4646ff"/><rect x="521" y="360" width="3" height="41" fill="#dc4646"/><rect x="525" y="383" width="3" height="18" fill="#40dc40"/><rect x="529" y="296" width="3" height="87" fill="#40dc40"/><rect x="533" y="296" width="3" height="24" fill="#dc4646"/><rect x="537" y="308" width="3" height="12" fill="#40dc40"/><rect x="541" y="309" width="3" height="12" fill="#dc4646"/><rect x="545" y="300" width="3" height="25" fill="#dc4646"/><rect x="549" y="325" width="3" height="17" fill="#dc4646"/><rect x="553" y="340" width="3" height="2" fill="#40dc40"/><rect x="557" y="324" width="3" height="16" fill="#40dc40"/><rect x="561" y="318" width="3" height="6" fill="#40dc40"/><rect x="565" y="315" width="3" height="5" fill="#40dc40"/><rect x="569" y="315" width="3" height="16" fill="#dc4646"/><rect x="573" y="311" width="3" height="20" fill="#40dc40"/><rect x="576" y="311" width="3" height="2" fill="#dc4646"/><rect x="580" y="303" width="3" height="10" fill="#40dc40"/><rect x="584" y="302" width="3" height="27" fill="#dc4646"/><rect x="588" y="298" width="3" height="31" fill="#40dc40"/><rect x="592" y="291" width="3" height="7" fill="#40dc40"/><rect x="596" y="290" width="3" height="1" fill="#4646ff"/><rect x="600" y="250" width="3" height="22" fill="#40dc40"/><rect x="604" y="239" width="3" height="11" fill="#40dc40"/><rect x="608" y="239" width="3" height="13" fill="#dc4646"/><rect x="612" y="252" width="3" height="11" fill="#dc4646"/><rect x="616" y="264" width="3" height="13" fill="#dc4646"/><rect x="620" y="271" width="3" height="6" fill="#40dc40"/><rect x="624" y="267" width="3" height="4" fill="#40dc40"/><rect x="628" y="275" width="3" height="23" fill="#40dc40"/><rect x="632" y="258" width="3" height="16" fill="#40dc40"/><rect x="635" y="258" width="3" height="18" fill="#dc4646"/><rect x="639" y="276" width="3" height="8" fill="#dc4646"/><rect x="643" y="272" width="3" height="12" fill="#40dc40"/><rect x="647" y="261" width="3" height="11" fill="#40dc40"/><rect x="651" y="261" width="3" height="18" fill="#dc4646"/><rect x="655" y="320" width="3" height="16" fill="#dc4646"/><rect x="659" y="336" width="3" height="8" fill="#dc4646"/><rect x="663" y="344" width="3" height="6" fill="#dc4646"/><rect x="667" y="350" width="3" height="11" fill="#dc4646"/><rect x="671" y="361" width="3" height="41" fill="#dc4646"/><rect x="675" y="401" width="3" height="1" fill="#40dc40"/><rect x="679" y="402" width="3" height="16" fill="#dc4646"/><rect x="683" y="346" width="3" height="16" fill="#dc4646"/><rect x="687" y="362" width="3" height="21" fill="#dc4646"/><rect x="691" y="383" width="3" height="9" fill="#dc4646"/><rect x="694" y="392" width="3" height="25" fill="#dc4646"/><rect x="698" y="391" width="3" height="26" fill="#40dc40"/><rect x="702" y="365" width="3" height="26" fill="#40dc40"/><rect x="706" y="365" width="3" height="14" fill="#dc4646"/><rect x="710" y="370" width="3" height="21" fill="#dc4646"/><rect x="714" y="385" width="3" height="6" fill="#40dc40"/><rect x="718" y="384" width="3" height="11" fill="#dc4646"/><rect x="722" y="395" width="3" height="19" fill="#dc4646"/><rect x="726" y="408" width="3" height="6" fill="#40dc40"/><rect x="730" y="382" width="3" height="26" fill="#40dc40"/><rect x="734" y="383" width="3" height="4" fill="#dc4646"/><rect x="738" y="318" width="3" height="29" fill="#40dc40"/><rect x="742" y="318" width="3" height="7" fill="#dc4646"/><rect x="746" y="325" width="3" height="9" fill="#dc4646"/><rect x="750" y="305" width="3" height="29" fill="#40dc40"/><rect x="753" y="305" width="3" height="7" fill="#dc4646"/><rect x="757" y="312" width="3" height="1" fill="#4646ff"/><rect x="761" y="312" width="3" height="2" fill="#dc4646"/><rect x="765" y="327" width="3" height="2" fill="#dc4646"/><rect x="769" y="330" width="3" height="17" fill="#dc4646"/><rect x="773" y="347" width="3" height="5" fill="#dc4646"/><rect x="777" y="333" width="3" height="19" fill="#40dc40"/><rect x="781" y="333" width="3" height="11" fill="#dc4646"/><rect x="785" y="343" width="3" height="1" fill="#4646ff"/><rect x="789" y="344" width="3" height="1" fill="#4646ff"/><rect x="793" y="335" width="3" height="37" fill="#dc4646"/><rect x="797" y="357" width="3" height="15" fill="#40dc40"/><rect x="801" y="343" width="3" height="14" fill="#40dc40"/><rect x="805" y="343" width="3" height="17" fill="#dc4646"/><rect x="809" y="328" width="3" height="32" fill="#40dc40"/><rect x="812" y="328" width="3" height="19" fill="#dc4646"/><rect x="816" y="347" width="3" height="16" fill="#dc4646"/><rect x="820" y="338" width="3" height="23" fill="#dc4646"/><rect x="824" y="361" width="3" height="5" fill="#dc4646"/><rect x="828" y="341" width="3" height="25" fill="#40dc40"/><rect x="832" y="315" width="3" height="26" fill="#40dc40"/><rect x="836" y="297" width="3" height="18" fill="#40dc40"/><rect x="840" y="282" width="3" height="15" fill="#40dc40"/><rect x="844" y="256" width="3" height="27" fill="#40dc40"/><rect x="848" y="187" width="3" height="29" fill="#40dc40"/><rect x="852" y="169" width="3" height="18" fill="#40dc40"/><rect x="856" y="169" width="3" height="1" fill="#bebebe"/><rect x="860" y="169" width="3" height="13" fill="#dc4646"/><rect x="864" y="184" width="3" height="8" fill="#dc4646"/><rect x="868" y="177" width="3" height="15" fill="#40dc40"/><rect x="872" y="177" width="3" height="20" fill="#dc4646"/></g>
<rect x="216" y="329" width="774" height="1" fill="#ffffff" shape-rendering="crispEdges"/>
<path d="M401 0h1v1h-1zM401 1h1v1h-1zM402 2h1v1h-1zM403 3h1v1h-1zM404 4h1v1h-1zM416 16h1v1h-1zM417 17h1v1h-1zM418 18h1v1h-1zM419 19h1v1h-1zM420 20h1v1h-1zM421 21h1v1h-1zM422 22h1v1h-1zM423 23h1v1h-1zM424 24h1v1h-1zM425 25h1v1h-1zM426 26h1v1h-1zM427 27h1v1h-1zM428 28h1v1h-1zM429 29h1v1h-1zM430 30h1v1h-1zM431 31h1v1h-1zM432 32h1v1h-1zM433 33h1v1h-1zM434 34h1v1h-1zM435 35h1v1h-1zM436 36h1v1h-1zM437 37h1v1h-1zM438 38h1v1h-1zM439 39h1v1h-1zM440 40h1v1h-1zM441 41h1v1h-1zM442 42h1v1h-1zM443 43h1v1h-1zM444 44h1v1h-1zM445 45h1v1h-1zM446 46h1v1h-1zM447 47h1v1h-1zM448 48h1v1h-1zM449 49h1v1h-1zM450 50h1v1h-1zM451 51h1v1h-1zM452 52h1v1h-1zM453 53h1v1h-1zM454 54h1v1h-1zM455 55h1v1h-1zM456 56h1v1h-1zM457 57h1v1h-1zM458 58h1v1h-1zM459 59h1v1h-1zM460 60h1v1h-1zM461 61h1v1h-1zM462 62h1v1h-1zM463 63h1v1h-1zM464 64h1v1h-1zM465 65h1v1h-1zM466 66h1v1h-1zM467 67h1v1h-1zM468 68h1v1h-1zM469 69h1v1h-1zM470 70h1v1h-1zM471 71h1v1h-1zM472 72h1v1h-1zM473 73h1v1h-1zM474 74h1v1h-1zM474 75h1v1h-1zM475 76h1v1h-1zM476 77h1v1h-1zM477 78h1v1h-1zM478 79h1v1h-1zM479 80h1v1h-1zM480 81h1v1h-1zM481 82h1v1h-1zM482 83h1v1h-1zM483 84h1v1h-1zM484 85h1v1h-1zM485 86h1v1h-1zM486 87h1v1h-1zM487 88h1v1h-1zM488 89h1v1h-1zM489 90h1v1h-1zM490 91h1v1h-1zM491 92h1v1h-1zM492 93h1v1h-1zM493 94h1v1h-1zM494 95h1v1h-1zM495 96h1v1h-1zM496 97h1v1h-1zM497 98h1v1h-1zM498 99h1v1h-1zM499 100h1v1h-1zM500 101h1v1h-1zM501 102h1v1h-1zM502 103h1v1h-1zM503 104h1v1h-1zM504 105h1v1h-1zM505 106h1v1h-1zM506 107h1v1h-1zM507 108h1v1h-1zM508 109h1v1h-1zM509 110h1v1h-1zM510 111h1v1h-1zM511 112h1v1h-1zM512 113h1v1h-1zM513 114h1v1h-1zM514 115h1v1h-1zM515 116h1v1h-1zM516 117h1v1h-1zM517 118h1v1h-1zM518 119h1v1h-1zM519 120h1v1h-1zM520 121h1v1h-1zM521 122h1v1h-1zM522 123h1v1h-1zM523 124h1v1h-1zM524 125h1v1h-1zM525 126h1v1h-1zM526 127h1v1h-1zM527 128h1v1h-1zM528 129h1v1h-1zM529 130h1v1h-1zM530 131h1v1h-1zM531 132h1v1h-1zM532 133h1v1h-1zM533 134h1v1h-1zM534 135h1v1h-1zM535 136h1v1h-1zM536 137h1v1h-1zM537 138h1v1h-1zM538 139h1v1h-1zM539 140h1v1h-1zM540 141h1v1h-1zM541 142h1v1h-1zM542 143h1v1h-1zM543 144h1v1h-1zM544 145h1v1h-1zM545 146h1v1h-1zM546 147h1v1h-1zM547 148h1v1h-1zM547 149h1v1h-1zM548 150h1v1h-1zM549 151h1v1h-1zM550 152h1v1h-1zM551 153h1v1h-1zM552 154h1v1h-1zM553 155h1v1h-1zM554 156h1v1h-1zM555 157h1v1h-1zM556 158h1v1h-1zM557 159h1v1h-1zM558 160h1v1h-1zM559 161h1v1h-1zM560 162h1v1h-1zM561 163h1v1h-1zM562 164h1v1h-1zM563 165h1v1h-1zM564 166h1v1h-1zM565 167h1v1h-1zM566 168h1v1h-1zM567 169h1v1h-1zM568 170h1v1h-1zM569 171h1v1h-1zM570 172h1v1h-1zM571 173h1v1h-1zM572 174h1v1h-1zM573 175h1v1h-1zM574 176h1v1h-1zM575 177h1v1h-1zM576 178h1v1h-1zM577 179h1v1h-1zM578 180h1v1h-1zM579 181h1v1h-1zM580 182h1v1h-1zM581 183h1v1h-1zM582 184h1v1h-1zM583 185h1v1h-1zM584 186h1v1h-1zM585 187h1v1h-1zM586 188h1v1h-1zM587 189h1v1h-1zM588 190h1v1h-1zM589 191h1v1h-1zM590 192h1v1h-1zM591 193h1v1h-1zM592 194h1v1h-1zM593 195h1v1h-1zM594 196h1v1h-1zM595 197h1v1h-1zM596 198h1v1h-1zM597 199h1v1h-1zM598 200h1v1h-1zM599 201h1v1h-1zM600 202h1v1h-1zM601 203h1v1h-1zM602 204h1v1h-1zM603 205h1v1h-1zM604 206h1v1h-1zM605 207h1v1h-1zM606 208h1v1h-1zM607 209h1v1h-1zM608 210h1v1h-1zM609 211h1v1h-1zM610 212h1v1h-1zM611 213h1v1h-1zM612 214h1v1h-1zM613 215h1v1h-1zM614 216h1v1h-1zM615 217h1v1h-1zM616 218h1v1h-1zM617 219h1v1h-1zM618 220h1v1h-1zM619 221h1v1h-1zM619 222h1v1h-1zM620 223h1v1h-1zM621 224h1v1h-1zM622 225h1v1h-1zM623 226h1v1h-1zM624 227h1v1h-1zM625 228h1v1h-1zM626 229h1v1h-1zM627 230h1v1h-1zM628 231h1v1h-1zM629 232h1v1h-1zM630 233h1v1h-1zM631 234h1v1h-1zM632 235h1v1h-1zM633 236h1v1h-1zM634 237h1v1h-1zM635 238h1v1h-1zM636 239h1v1h-1zM637 240h1v1h-1zM638 241h1v1h-1zM639 242h1v1h-1zM640 243h1v1h-1zM641 244h1v1h-1zM642 245h1v1h-1zM643 246h1v1h-1zM644 247h1v1h-1zM645 248h1v1h-1zM646 249h1v1h-1zM647 250h1v1h-1zM648 251h1v1h-1zM649 252h1v1h-1zM650 253h1v1h-1zM651 254h1v1h-1zM652 255h1v1h-1zM653 256h1v1h-1zM654 257h1v1h-1zM655 258h1v1h-1zM656 259h1v1h-1zM657 260h1v1h-1zM658 261h1v1h-1zM659 262h1v1h-1zM660 263h1v1h-1zM661 264h1v1h-1zM662 265h1v1h-1zM663 266h1v1h-1zM664 267h1v1h-1zM665 268h1v1h-1zM666 269h1v1h-1zM667 270h1v1h-1zM668 271h1v1h-1zM669 272h1v1h-1zM670 273h1v1h-1zM671 274h1v1h-1zM672 275h1v1h-1zM673 276h1v1h-1zM674 277h1v1h-1zM675 278h1v1h-1zM676 279h1v1h-1zM677 280h1v1h-1zM678 281h1v1h-1zM679 282h1v1h-1zM680 283h1v1h-1zM681 284h1v1h-1zM682 285h1v1h-1zM683 286h1v1h-1zM684 287h1v1h-1zM685 288h1v1h-1zM686 289h1v1h-1zM687 290h1v1h-1zM688 291h1v1h-1zM689 292h1v1h-1zM690 293h1v1h-1zM691 294h1v1h-1zM692 295h1v1h-1zM692 296h1v1h-1zM693 297h1v1h-1zM694 298h1v1h-1zM695 299h1v1h-1zM696 300h1v1h-1zM697 301h1v1h-1zM698 302h1v1h-1zM699 303h1v1h-1zM700 304h1v1h-1zM701 305h1v1h-1zM702 306h1v1h-1zM703 307h1v1h-1zM704 308h1v1h-1zM705 309h1v1h-1zM706 310h1v1h-1zM707 311h1v1h-1zM708 312h1v1h-1zM709 313h1v1h-1zM710 314h1v1h-1zM711 315h1v1h-1zM712 316h1v1h-1zM713 317h1v1h-1zM714 318h1v1h-1zM715 319h1v1h-1zM716 320h1v1h-1zM717 321h1v1h-1zM718 322h1v1h-1zM719 323h1v1h-1zM720 324h1v1h-1zM721 325h1v1h-1zM722 326h1v1h-1zM723 327h1v1h-1zM724 328h1v1h-1zM725 329h1v1h-1zM726 330h1v1h-1zM727 331h1v1h-1zM728 332h1v1h-1zM729 333h1v1h-1zM730 334h1v1h-1zM731 335h1v1h-1zM732 336h1v1h-1zM733 337h1v1h-1zM734 338h1v1h-1zM735 339h1v1h-1zM736 340h1v1h-1zM737 341h1v1h-1zM738 342h1v1h-1zM739 343h1v1h-1zM740 344h1v1h-1zM741 345h1v1h-1zM742 346h1v1h-1zM743 347h1v1h-1zM744 348h1v1h-1zM745 349h1v1h-1zM746 350h1v1h-1zM747 351h1v1h-1zM748 352h1v1h-1zM749 353h1v1h-1zM750 354h1v1h-1zM751 355h1v1h-1zM752 356h1v1h-1zM753 357h1v1h-1zM754 358h1v1h-1zM755 359h1v1h-1zM756 360h1v1h-1zM757 361h1v1h-1zM758 362h1v1h-1zM759 363h1v1h-1zM760 364h1v1h-1zM761 365h1v1h-1zM762 366h1v1h-1zM763 367h1v1h-1zM764 368h1v1h-1zM765 369h1v1h-1zM765 370h1v1h-1zM766 371h1v1h-1zM767 372h1v1h-1zM768 373h1v1h-1zM769 374h1v1h-1zM770 375h1v1h-1zM771 376h1v1h-1zM772 377h1v1h-1zM773 378h1v1h-1zM774 379h1v1h-1zM775 380h1v1h-1zM776 381h1v1h-1zM777 382h1v1h-1zM778 383h1v1h-1zM779 384h1v1h-1zM780 385h1v1h-1zM781 386h1v1h-1zM782 387h1v1h-1zM783 388h1v1h-1zM784 389h1v1h-1zM785 390h1v1h-1zM786 391h1v1h-1zM787 392h1v1h-1zM788 393h1v1h-1zM789 394h1v1h-1zM790 395h1v1h-1zM791 396h1v1h-1zM792 397h1v1h-1zM793 398h1v1h-1zM794 399h1v1h-1zM795 400h1v1h-1zM796 401h1v1h-1zM797 402h1v1h-1zM798 403h1v1h-1zM799 404h1v1h-1zM800 405h1v1h-1zM801 406h1v1h-1zM802 407h1v1h-1zM803 408h1v1h-1zM804 409h1v1h-1zM805 410h1v1h-1zM806 411h1v1h-1zM807 412h1v1h-1zM808 413h1v1h-1zM809 414h1v1h-1zM810 415h1v1h-1zM811 416h1v1h-1zM812 417h1v1h-1zM813 418h1v1h-1zM814 419h1v1h-1zM815 420h1v1h-1zM816 421h1v1h-1zM817 422h1v1h-1zM818 423h1v1h-1zM819 424h1v1h-1zM820 425h1v1h-1zM821 426h1v1h-1zM822 427h1v1h-1zM823 428h1v1h-1zM824 429h1v1h-1zM825 430h1v1h-1zM826 431h1v1h-1zM827 432h1v1h-1zM828 433h1v1h-1zM829 434h1v1h-1zM830 435h1v1h-1zM831 436h1v1h-1zM832 437h1v1h-1zM833 438h1v1h-1zM834 439h1v1h-1zM835 440h1v1h-1zM836 441h1v1h-1zM837 442h1v1h-1zM838 443h1v1h-1zM838 444h1v1h-1zM839 445h1v1h-1zM840 446h1v1h-1zM841 447h1v1h-1zM842 448h1v1h-1zM843 449h1v1h-1zM844 450h1v1h-1zM845 451h1v1h-1zM846 452h1v1h-1zM847 453h1v1h-1zM848 454h1v1h-1zM849 455h1v1h-1zM850 456h1v1h-1zM851 457h1v1h-1zM852 458h1v1h-1zM853 459h1v1h-1zM854 460h1v1h-1zM855 461h1v1h-1zM856 462h1v1h-1zM857 463h1v1h-1zM858 464h1v1h-1zM859 465h1v1h-1zM860 466h1v1h-1zM861 467h1v1h-1zM862 468h1v1h-1zM863 469h1v1h-1zM864 470h1v1h-1zM865 471h1v1h-1zM866 472h1v1h-1zM867 473h1v1h-1zM868 474h1v1h-1zM869 475h1v1h-1zM870 476h1v1h-1zM871 477h1v1h-1zM872 478h1v1h-1zM873 479h1v1h-1z" fill="#ffffff" shape-rendering="crispEdges"/>
<rect x="739" y="311" width="131" height="1" fill="#a8a8a8" shape-rendering="crispEdges"/>
<rect x="998" y="359" width="2" height="1" fill="#9a9a9a" shape-rendering="crispEdges"/>
<rect x="998" y="238" width="2" height="1" fill="#8a8a8a" shape-rendering="crispEdges"/>
<rect x="998" y="452" width="2" height="1" fill="#e6e6e6" shape-rendering="crispEdges"/>
<g stroke="#b8b8b8" stroke-width="1" fill="none" stroke-linejoin="miter" shape-rendering="crispEdges"><polyline points="869.5,311.5 906,87 926.9,182.2"/><polygon points="926.9,182.2 914.4,166.6 924.1,171.6 931.6,162.4"/><polyline points="873,75.5 956.25,75.5 975.5,13.1"/><polygon points="975.5,13.1 961.25,27.5 971.5,23.3 977.2,32.5"/></g>
</svg></body></html>
